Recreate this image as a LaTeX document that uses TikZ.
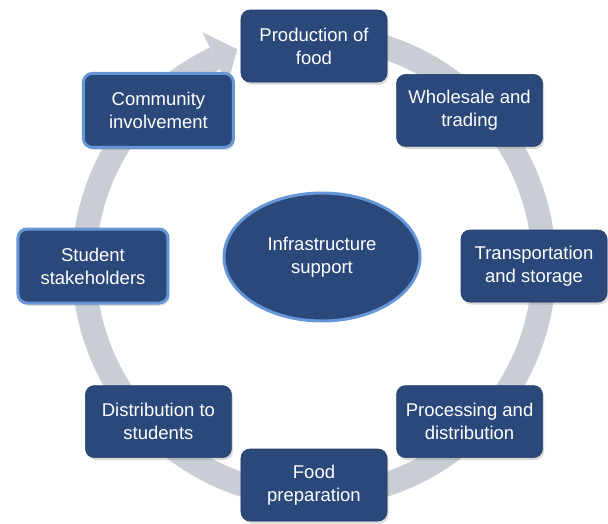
\documentclass[tikz,border=0pt]{standalone}
\usepackage{fontspec}
\setmainfont{Liberation Sans}
\usetikzlibrary{shapes.geometric,shadows}

\definecolor{stepblue}{RGB}{42,72,122}
\definecolor{rimblue}{RGB}{102,150,214}
\definecolor{loopgrey}{RGB}{201,205,212}

\begin{document}
\begin{tikzpicture}
[
x=1pt, y=1pt,
stage/.style={rectangle, rounded corners=9pt, fill=stepblue, draw=stepblue!85!black,
  line width=0.6pt, text=white, align=center, inner sep=2pt,
  minimum width=146pt, minimum height=72pt,
  font=\fontsize{18.5}{23}\selectfont,
  drop shadow={opacity=0.3, shadow xshift=1.5pt, shadow yshift=-2.5pt}},
people/.style={stage, draw=rimblue, line width=3pt, minimum width=150pt, minimum height=74pt},
hub/.style={ellipse, fill=stepblue, draw=rimblue, line width=3pt, text=white, align=center,
  inner sep=0pt, minimum width=196pt, minimum height=128pt,
  font=\fontsize{18.5}{23}\selectfont}
]
\useasboundingbox (-314,-257) rectangle (294,266);

% grey cycle behind the boxes
\draw[loopgrey, line width=24pt] (100:230pt) arc[start angle=100, end angle=-244.5, radius=230pt];
\fill[loopgrey] (115.5:259pt) -- (109.5:230pt) -- (115.5:201pt) -- cycle;

\node[hub] (infra) at (8,9) {Infrastructure\\support};

\node[stage] (prod) at (90:220pt) {Production of\\food};
\node[stage] (trade) at (45:220pt) {Wholesale and\\trading};
\node[stage] (transport) at (0:220pt) {Transportation\\and storage};
\node[stage] (process) at (-45:220pt) {Processing and\\distribution};
\node[stage] (prep) at (-90:219pt) {Food\\preparation};
\node[stage] (distrib) at (-135:220pt) {Distribution to\\students};
\node[people] (students) at (180:221pt) {Student\\stakeholders};
\node[people] (community) at (135:220pt) {Community\\involvement};
\end{tikzpicture}
\end{document}
